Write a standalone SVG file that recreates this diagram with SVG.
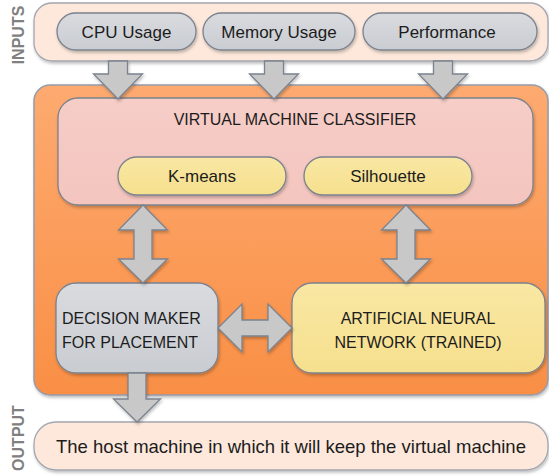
<svg xmlns="http://www.w3.org/2000/svg" width="549" height="476" viewBox="0 0 549 476">
<defs>
<linearGradient id="gOrange" x1="0" y1="0" x2="0" y2="1"><stop offset="0" stop-color="#fdaa70"/><stop offset="1" stop-color="#f98f45"/></linearGradient>
<linearGradient id="gGray" x1="0" y1="0" x2="0" y2="1"><stop offset="0" stop-color="#d9dbdf"/><stop offset="1" stop-color="#c9ccd1"/></linearGradient>
<linearGradient id="gPink" x1="0" y1="0" x2="0" y2="1"><stop offset="0" stop-color="#f6cdc7"/><stop offset="1" stop-color="#f4c5bf"/></linearGradient>
<linearGradient id="gYellow" x1="0" y1="0" x2="0" y2="1"><stop offset="0" stop-color="#f9e7a3"/><stop offset="1" stop-color="#f6e08e"/></linearGradient>
<filter id="sh" x="-10%" y="-10%" width="120%" height="130%"><feDropShadow dx="1" dy="2" stdDeviation="1.5" flood-color="#000" flood-opacity="0.25"/></filter>
</defs>
<style>
.band{fill:#fde8db;stroke:#a3a7ae;stroke-width:1.3;filter:url(#sh)}
.pill{fill:url(#gGray);stroke:#7b828e;stroke-width:1.3;filter:url(#sh)}
.outer{fill:url(#gOrange);stroke:#959cab;stroke-width:1.5;filter:url(#sh)}
.cls{fill:url(#gPink);stroke:#7b828e;stroke-width:1.3;filter:url(#sh)}
.yel{fill:url(#gYellow);stroke:#7b828e;stroke-width:1.3;filter:url(#sh)}
.gry{fill:url(#gGray);stroke:#7b828e;stroke-width:1.3;filter:url(#sh)}
.arr{fill:#c8c8c8;stroke:#7b828e;stroke-width:1.3;stroke-linejoin:miter;filter:url(#sh)}
text{font-family:"Liberation Sans",Arial,sans-serif;fill:#1c1c1c}
.t16{font-size:16px}
.t17{font-size:17px}
.side{font-size:16px;font-weight:bold;fill:#808080}
</style>

<g id="inputs">
<rect class="band" x="34" y="3" width="514" height="58" rx="18"/>
<text class="side" transform="translate(24,35) rotate(-90)" text-anchor="middle">INPUTS</text>
</g>
<g id="cpu">
<rect class="pill" x="57" y="13" width="139" height="37" rx="18.5"/>
<text class="t17" x="126.5" y="38" text-anchor="middle">CPU Usage</text>
</g>
<g id="memory">
<rect class="pill" x="203" y="13" width="152" height="37" rx="18.5"/>
<text class="t17" x="279" y="38" text-anchor="middle">Memory Usage</text>
</g>
<g id="performance">
<rect class="pill" x="363" y="13" width="174" height="37" rx="18.5"/>
<text class="t17" x="447" y="38" text-anchor="middle">Performance</text>
</g>

<g id="system">
<rect class="outer" x="34" y="85" width="514" height="310" rx="16"/>
</g>
<g id="classifier">
<rect class="cls" x="58" y="98" width="475" height="107" rx="20"/>
<text class="t16" x="295" y="125" text-anchor="middle">VIRTUAL MACHINE CLASSIFIER</text>
</g>
<g id="kmeans">
<rect class="yel" x="118" y="157" width="168" height="38" rx="19"/>
<text class="t17" x="202" y="182" text-anchor="middle">K-means</text>
</g>
<g id="silhouette">
<rect class="yel" x="304" y="157" width="168" height="38" rx="19"/>
<text class="t17" x="388" y="182" text-anchor="middle">Silhouette</text>
</g>
<g id="decision">
<rect class="gry" x="56" y="283" width="162" height="90" rx="20"/>
<text class="t16" x="62" y="324">DECISION MAKER</text>
<text class="t16" x="62" y="348">FOR PLACEMENT</text>
</g>
<g id="ann">
<rect class="yel" x="292" y="283" width="253" height="90" rx="20"/>
<text class="t16" x="418" y="324" text-anchor="middle">ARTIFICIAL NEURAL</text>
<text class="t16" x="418" y="348" text-anchor="middle">NETWORK (TRAINED)</text>
</g>

<g id="output">
<rect class="band" x="34" y="422" width="514" height="48" rx="22"/>
<text x="291" y="453" text-anchor="middle" font-size="18.5">The host machine in which it will keep the virtual machine</text>
<text class="side" transform="translate(24,438) rotate(-90)" text-anchor="middle">OUTPUT</text>
</g>

<g id="connectors">
<path class="arr" d="M108.5,61 H127.5 V74 H142.5 L118,99 L93.5,74 H108.5 Z"/>
<path class="arr" d="M264.5,61 H283.5 V74 H298.5 L274,99 L249.5,74 H264.5 Z"/>
<path class="arr" d="M433.5,61 H452.5 V74 H467.5 L443,99 L418.5,74 H433.5 Z"/>
<path class="arr" d="M143,205 L167.5,230 H152 V259 H167.5 L143,283 L118.5,259 H134 V230 H118.5 Z"/>
<path class="arr" d="M406,205 L430.5,230 H415 V259 H430.5 L406,283 L381.5,259 H397 V230 H381.5 Z"/>
<path class="arr" d="M218,328 L242,304 V320 H268 V304 L292,328 L268,352 V336 H242 V352 Z"/>
<path class="arr" d="M128,373 H146 V399 H160.5 L137,422 L113.5,399 H128 Z"/>
</g>
</svg>
